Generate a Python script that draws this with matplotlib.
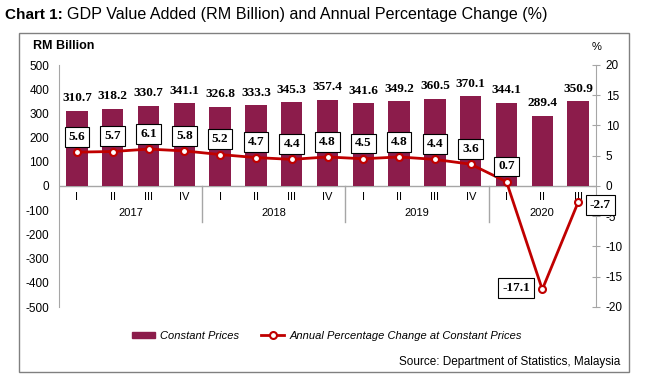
import matplotlib
matplotlib.use('Agg')
import matplotlib.pyplot as plt
from matplotlib.patches import Rectangle, Patch
from matplotlib.lines import Line2D

plt.rcParams['axes.unicode_minus'] = False

# data
quarters = ['I', 'II', 'III', 'IV', 'I', 'II', 'III', 'IV',
            'I', 'II', 'III', 'IV', 'I', 'II', 'III']
years = ['2017', '2018', '2019', '2020']
year_sizes = [4, 4, 4, 3]
gdp = [310.7, 318.2, 330.7, 341.1, 326.8, 333.3, 345.3, 357.4,
       341.6, 349.2, 360.5, 370.1, 344.1, 289.4, 350.9]
pct = [5.6, 5.7, 6.1, 5.8, 5.2, 4.7, 4.4, 4.8,
       4.5, 4.8, 4.4, 3.6, 0.7, -17.1, -2.7]

bar_col = '#8C1C4B'
line_col = '#C00000'
axis_col = '#A6A6A6'
sans = 'Liberation Sans'
serif = 'Liberation Serif'

fig = plt.figure(figsize=(6.45, 3.91), dpi=100)

# outer frame
fig.patches.append(Rectangle((19 / 645, 1 - 372 / 391), 610 / 645, 339 / 391,
                             transform=fig.transFigure, fill=False,
                             ec='#808080', lw=1.0))

# title
fig.text(5 / 645, 1 - 15 / 391, 'Chart 1:', fontsize=11, fontweight='bold',
         family=sans, va='center')
fig.text(67 / 645, 1 - 15 / 391,
         'GDP Value Added (RM Billion) and Annual Percentage Change (%)',
         fontsize=11.6, family=sans, va='center')

ax = fig.add_axes([59 / 645, 1 - 307 / 391, 537 / 645, 242 / 391])
ax2 = ax.twinx()

x = list(range(len(gdp)))
ax.bar(x, gdp, width=0.6, color=bar_col, zorder=2)
ax.set_xlim(-0.5, len(gdp) - 0.5)
ax.set_ylim(-500, 500)
ax.set_yticks(range(-500, 501, 100))
ax.set_xticks([])
ax.axhline(0, color=axis_col, lw=1.0, zorder=1)

for s in ['top', 'right', 'bottom']:
    ax.spines[s].set_visible(False)
ax.spines['left'].set_color(axis_col)
ax.tick_params(axis='y', length=0, labelsize=8.5, pad=7)
for t in ax.get_yticklabels():
    t.set_family(sans)

for xi, v in zip(x, gdp):
    ax.annotate(f'{v:.1f}', (xi, v), xytext=(0, 9), textcoords='offset points',
                ha='center', va='center', fontsize=9.5, fontweight='bold',
                family=serif)

# category and year labels
for xi, q in zip(x, quarters):
    ax.text(xi, -45, q, ha='center', va='center', fontsize=8, family=sans)
start = 0
for yr, n in zip(years, year_sizes):
    ax.text(start + (n - 1) / 2, -112, yr, ha='center', va='center',
            fontsize=8, family=sans)
    if start > 0:
        ax.plot([start - 0.5, start - 0.5], [0, -150], color=axis_col, lw=1.0,
                clip_on=False)
    start += n

# line on right axis
ax2.plot(x, pct, color=line_col, lw=2, marker='o', ms=5,
         mfc='white', mec=line_col, mew=1.5, zorder=3)
ax2.set_ylim(-20, 20)
ax2.set_yticks(range(-20, 21, 5))
for s in ['top', 'left', 'bottom']:
    ax2.spines[s].set_visible(False)
ax2.spines['right'].set_color(axis_col)
ax2.tick_params(axis='y', direction='inout', length=6, color=axis_col,
                labelsize=8.5, pad=4)
for t in ax2.get_yticklabels():
    t.set_family(sans)

box = dict(boxstyle='square,pad=0.3', fc='white', ec='black', lw=0.8)
offsets = {13: (-19, 1), 14: (16, -2)}
for xi, v in zip(x, pct):
    dx, dy = offsets.get(xi, (0, 11))
    ax2.annotate(f'{v:.1f}', (xi, v), xytext=(dx, dy), textcoords='offset points',
                 ha='center', va='center', fontsize=9.5, fontweight='bold',
                 family=serif, bbox=box, zorder=4)

fig.text(33 / 645, 1 - 46 / 391, 'RM Billion', fontsize=9, fontweight='bold',
         family=sans, va='center')
fig.text(597 / 645, 1 - 47 / 391, '%', fontsize=8, family=sans,
         va='center', ha='center')

handles = [Patch(color=bar_col),
           Line2D([], [], color=line_col, lw=2, marker='o', ms=5,
                  mfc='white', mec=line_col, mew=1.5)]
fig.legend(handles, ['Constant Prices', 'Annual Percentage Change at Constant Prices'],
           loc='center', bbox_to_anchor=(327 / 645, 1 - 336 / 391), ncol=2,
           frameon=False, handlelength=2.0, handleheight=0.5, columnspacing=2.0,
           handletextpad=0.5, prop={'family': sans, 'style': 'italic', 'size': 8})

fig.text(620 / 645, 1 - 362 / 391, 'Source: Department of Statistics, Malaysia',
         fontsize=8.5, family=sans, ha='right', va='center')

fig.savefig('out.png', dpi=100)
